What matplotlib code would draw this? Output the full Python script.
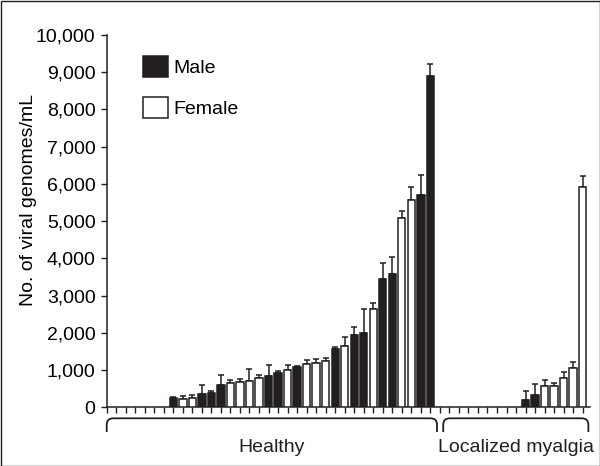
import matplotlib
matplotlib.use("Agg")
import matplotlib.pyplot as plt
import numpy as np
from matplotlib.patches import Rectangle, PathPatch
from matplotlib.path import Path
from matplotlib.ticker import FuncFormatter

plt.rcParams['font.family'] = ['Liberation Sans', 'DejaVu Sans']

# ---------------- data ----------------
group_names = ["Healthy", "Localized myalgia"]

healthy_values = [0, 0, 0, 0, 0, 0,
                  250, 210, 240, 360, 390, 590, 660, 680, 700, 790,
                  840, 930, 1000, 1070, 1160, 1200, 1250, 1560, 1650, 1930,
                  2000, 2650, 3440, 3590, 5080, 5570, 5700, 8900]
healthy_errors = [0, 0, 0, 0, 0, 0,
                  40, 100, 80, 240, 50, 280, 70, 80, 320, 90,
                  300, 55, 130, 40, 120, 90, 80, 60, 250, 215,
                  650, 150, 430, 440, 190, 350, 540, 330]
healthy_sex = ["", "", "", "", "", "",
               "M", "F", "F", "M", "M", "M", "F", "F", "F", "F",
               "M", "M", "F", "M", "F", "F", "F", "M", "F", "M",
               "M", "F", "M", "M", "F", "F", "M", "M"]

myalgia_values = [0, 0, 0, 0, 0, 0, 0, 0, 0,
                  200, 340, 560, 570, 800, 1050, 5930]
myalgia_errors = [0, 0, 0, 0, 0, 0, 0, 0, 0,
                  230, 290, 180, 70, 160, 170, 280]
myalgia_sex = ["", "", "", "", "", "", "", "", "",
               "M", "M", "F", "F", "F", "F", "F"]

legend_labels = {"M": "Male", "F": "Female"}
y_ticks = [0, 1000, 2000, 3000, 4000, 5000, 6000, 7000, 8000, 9000, 10000]

# ---------------- figure ----------------
W, H = 600, 466
fig = plt.figure(figsize=(W / 100, H / 100), dpi=100)
ax_l, ax_r, ax_b, ax_t = 106.7, 590.0, 407.3, 35.0
ax = fig.add_axes([ax_l / W, (H - ax_b) / H, (ax_r - ax_l) / W, (ax_b - ax_t) / H])

values = np.array(healthy_values + myalgia_values, dtype=float)
errors = np.array(healthy_errors + myalgia_errors, dtype=float)
sexes = np.array(healthy_sex + myalgia_sex)
x = np.arange(1, len(values) + 1)
n_h = len(healthy_values)
n_tot = len(values)

dark = "#231f20"
styles = {"M": dict(color=dark), "F": dict(color="white")}
handles = []
for s in ["M", "F"]:
    m = sexes == s
    b = ax.bar(x[m], values[m], width=0.77, edgecolor=dark, linewidth=1.1,
               label=legend_labels[s], zorder=3, **styles[s])
    handles.append(b)
    ax.errorbar(x[m], values[m], yerr=[np.zeros(m.sum()), errors[m]], fmt='none',
                ecolor=dark, elinewidth=1.1, capsize=2.3, capthick=1.1, zorder=2)

ax.set_xlim(0, 50.77)
ax.set_ylim(0, 10000)
ax.set_xticks(np.arange(0, n_tot + 1))
ax.set_xticklabels([])
ax.set_yticks(y_ticks)
ax.yaxis.set_major_formatter(FuncFormatter(lambda v, p: f"{int(v):,}"))
ax.tick_params(axis='both', direction='out', length=4, width=1.0, color=dark)
ax.tick_params(axis='y', labelsize=14, pad=4)
for sp in ["top", "right"]:
    ax.spines[sp].set_visible(False)
for sp in ["left", "bottom"]:
    ax.spines[sp].set_linewidth(1.1)
    ax.spines[sp].set_color(dark)

ax.set_ylabel("No. of viral genomes/mL", fontsize=14)
ax.yaxis.set_label_coords(-0.145, 0.557)

leg = ax.legend(handles=handles, loc='upper left', bbox_to_anchor=(0.0745, 0.943),
                frameon=False, fontsize=14, handlelength=1.3, handleheight=1.28,
                handletextpad=0.28, labelspacing=1.0, borderpad=0, borderaxespad=0)

# ---------------- group brackets ----------------
fig.canvas.draw()
y_axis_disp = H - ax_b
yh = y_axis_disp - 11.0
yb = y_axis_disp - 24.7
r = 6.5
brackets = [(0.0, n_h + 0.7), (n_h + 1.35, n_tot + 0.6)]
for (xs, xe), name in zip(brackets, group_names):
    x0 = ax.transData.transform((xs, 0))[0]
    x1 = ax.transData.transform((xe, 0))[0]
    verts = [(x0, yb), (x0, yh - r), (x0, yh), (x0 + r, yh), (x1 - r, yh),
             (x1, yh), (x1, yh - r), (x1, yb)]
    codes = [Path.MOVETO, Path.LINETO, Path.CURVE3, Path.CURVE3, Path.LINETO,
             Path.CURVE3, Path.CURVE3, Path.LINETO]
    verts = [(vx / W, vy / H) for vx, vy in verts]
    fig.add_artist(PathPatch(Path(verts, codes), transform=fig.transFigure,
                             fill=False, edgecolor=dark, linewidth=1.3))
    fig.text((x0 + x1) / 2 / W, (H - 448) / H, name, ha='center', va='center',
             fontsize=14, color=dark)

fig.add_artist(Rectangle((0.5 / W, 0.5 / H), 1 - 1.0 / W, 1 - 1.0 / H,
                         transform=fig.transFigure, fill=False,
                         edgecolor=dark, linewidth=1.0))

fig.savefig("out.png", dpi=100)
